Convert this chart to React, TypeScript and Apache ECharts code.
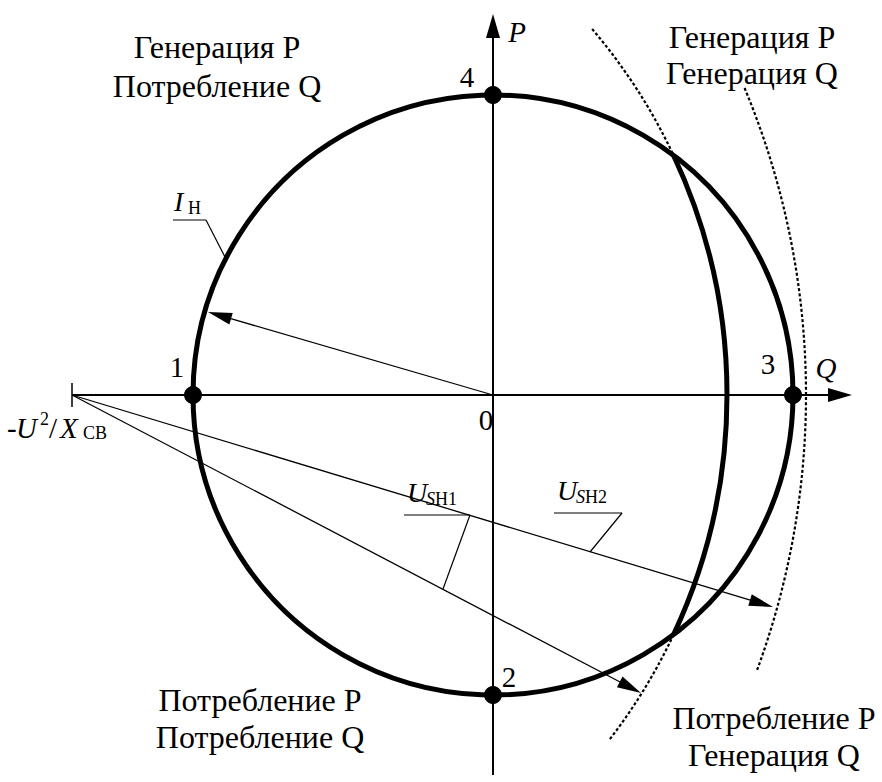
import { useEffect, useRef } from "react";
import * as echarts from "echarts";

const FONT = '"Liberation Serif", "Times New Roman", serif';

// ---- Diagram data (data units; circle of the load current has radius 3) ----
const mainCircle = [0, 0, 3.0]; // cx, cy, r
const loadCircle = [-3.3, 0, 5.64]; // cx, cy, r (thick inside, dashed outside)
const loadCircleEnds = [3.66, -3.45]; // y of dashed ends
const outerCircle = [-4.85, 0, 7.98];
const outerCircleEnds = [3.07, -2.77];
const feedPoint = [-4.21, 0];
const qAxisRange = [-4.21, 3.59];
const pAxisRange = [-3.8, 3.81];
const keyPoints = [
  [-3, 0],
  [0, -3],
  [3, 0],
  [0, 3],
];
const keyPointLabels = ["1", "2", "3", "4"];
const keyLabelAnchors = [
  [-3.16, 0.28],
  [0.16, -2.82],
  [2.75, 0.31],
  [-0.26, 3.18],
];
const originLabel = "0";
const originLabelAnchor = [-0.07, -0.25];
const axisNames = ["Q", "P"];
const axisNameAnchors = [
  [3.33, 0.27],
  [0.24, 3.63],
];
const vectorStarts = [
  [0, 0],
  [-4.21, 0],
  [-4.21, 0],
];
const vectorEnds = [
  [-2.85, 0.83],
  [1.48, -2.98],
  [2.8, -2.12],
];
const vectorMain = ["I", "U", "U"];
const vectorSubItalic = ["", "S", "S"];
const vectorSub = ["Н", "Н1", "Н2"];
const vectorLabelAnchors = [
  [-3.19, 1.94],
  [-0.86, -0.97],
  [0.64, -0.95],
];
const underlines = [
  [-3.2, -2.87, 1.75],
  [-0.89, -0.23, -1.2],
  [0.61, 1.29, -1.18],
]; // x1, x2, y
const leaderStarts = [
  [-2.87, 1.75],
  [-0.23, -1.2],
  [1.29, -1.18],
];
const leaderEnds = [
  [-2.68, 1.38],
  [-0.5, -1.94],
  [0.97, -1.57],
];
const regionTexts = [
  ["Генерация P", "Потребление Q"],
  ["Генерация P", "Генерация Q"],
  ["Потребление P", "Потребление Q"],
  ["Потребление P", "Генерация Q"],
];
const regionAnchors = [
  [-2.76, 3.48, 3.09],
  [2.59, 3.58, 3.22],
  [-2.33, -3.05, -3.42],
  [2.81, -3.23, -3.6],
]; // x, y line1, y line2

const X_MIN = -4.93;
const X_MAX = 3.89;
const Y_MIN = -3.87;
const Y_MAX = 3.95;

const MAIN_SIZE = 29;
const REGION_SIZE = 32;
const SUB_SIZE = 18;

function txt(x: number, y: number, text: string, size: number, italic: boolean, align = "center") {
  return {
    type: "text",
    x,
    y,
    style: {
      text,
      fontSize: size,
      fontFamily: FONT,
      fontStyle: italic ? "italic" : "normal",
      fill: "#000",
      align,
      verticalAlign: "middle",
    },
  };
}

function arrow(s: number[], t: number[], lineWidth: number, headLen: number, headHalf: number) {
  const dx = t[0] - s[0];
  const dy = t[1] - s[1];
  const L = Math.hypot(dx, dy);
  const ux = dx / L;
  const uy = dy / L;
  const nx = -uy;
  const ny = ux;
  const bx = t[0] - ux * headLen;
  const by = t[1] - uy * headLen;
  return [
    {
      type: "line",
      shape: { x1: s[0], y1: s[1], x2: bx + ux * 2, y2: by + uy * 2 },
      style: { stroke: "#000", lineWidth },
    },
    {
      type: "polygon",
      shape: {
        points: [
          [t[0], t[1]],
          [bx + nx * headHalf, by + ny * headHalf],
          [bx - nx * headHalf, by - ny * headHalf],
        ],
      },
      style: { fill: "#000" },
    },
  ];
}

function buildDiagram(api: any) {
  const c = (p: number[]) => api.coord(p);
  const sz = (r: number) => api.size([r, 0])[0];
  const children: any[] = [];

  // Axes
  const q0 = c([qAxisRange[0], 0]);
  const q1 = c([qAxisRange[1], 0]);
  children.push(...arrow(q0, q1, 2, 24, 7));
  const p0 = c([0, pAxisRange[0]]);
  const p1 = c([0, pAxisRange[1]]);
  children.push(...arrow(p0, p1, 2, 24, 7));

  // Tick at feed point
  const f = c(feedPoint);
  children.push({
    type: "line",
    shape: { x1: f[0], y1: f[1] - 12, x2: f[0], y2: f[1] + 12 },
    style: { stroke: "#000", lineWidth: 1.5 },
  });

  // Main circle
  const mc = c([mainCircle[0], mainCircle[1]]);
  children.push({
    type: "circle",
    shape: { cx: mc[0], cy: mc[1], r: sz(mainCircle[2]) },
    style: { fill: "none", stroke: "#000", lineWidth: 5 },
  });

  // Load circle: intersection with main circle
  const a = loadCircle[0] - mainCircle[0];
  const m = mainCircle[2];
  const R = loadCircle[2];
  const ix = (a * a + m * m - R * R) / (2 * a);
  const iy = Math.sqrt(m * m - ix * ix);
  const phi = Math.atan2(iy, ix - a);
  const phiTop = Math.asin((loadCircleEnds[0] - loadCircle[1]) / R);
  const phiBot = Math.asin((loadCircleEnds[1] - loadCircle[1]) / R);
  const lc = c([loadCircle[0], loadCircle[1]]);
  const lr = sz(R);
  children.push({
    type: "arc",
    shape: { cx: lc[0], cy: lc[1], r: lr, startAngle: -phi, endAngle: phi, clockwise: true },
    style: { fill: "none", stroke: "#000", lineWidth: 5 },
  });
  const dashStyle = { fill: "none", stroke: "#000", lineWidth: 2.2, lineDash: [3, 2.2] };
  children.push({
    type: "arc",
    shape: { cx: lc[0], cy: lc[1], r: lr, startAngle: -phiTop, endAngle: -phi, clockwise: true },
    style: dashStyle,
  });
  children.push({
    type: "arc",
    shape: { cx: lc[0], cy: lc[1], r: lr, startAngle: phi, endAngle: -phiBot, clockwise: true },
    style: dashStyle,
  });

  // Outer dashed circle
  const oc = c([outerCircle[0], outerCircle[1]]);
  const oR = outerCircle[2];
  children.push({
    type: "arc",
    shape: {
      cx: oc[0],
      cy: oc[1],
      r: sz(oR),
      startAngle: -Math.asin(outerCircleEnds[0] / oR),
      endAngle: -Math.asin(outerCircleEnds[1] / oR),
      clockwise: true,
    },
    style: dashStyle,
  });

  // Vectors
  vectorStarts.forEach((s, i) => {
    children.push(...arrow(c(s), c(vectorEnds[i]), 1.3, 24, 6));
  });

  // Leaders and vector labels
  underlines.forEach((u, i) => {
    const l0 = c([u[0], u[2]]);
    const l1 = c([u[1], u[2]]);
    children.push({
      type: "line",
      shape: { x1: l0[0], y1: l0[1], x2: l1[0], y2: l1[1] },
      style: { stroke: "#000", lineWidth: 1.2 },
    });
    const s = c(leaderStarts[i]);
    const e = c(leaderEnds[i]);
    children.push({
      type: "line",
      shape: { x1: s[0], y1: s[1], x2: e[0], y2: e[1] },
      style: { stroke: "#000", lineWidth: 1.2 },
    });
    const an = c(vectorLabelAnchors[i]);
    children.push(txt(an[0], an[1], vectorMain[i], 28, true, "left"));
    let dx = vectorMain[i] === "I" ? 14 : 19;
    if (vectorSubItalic[i]) {
      children.push(txt(an[0] + dx, an[1] + 7, vectorSubItalic[i], SUB_SIZE, true, "left"));
      dx += 9;
    }
    children.push(txt(an[0] + dx, an[1] + 7, vectorSub[i], SUB_SIZE, false, "left"));
  });

  // Feed point label: -U^2/X_СВ
  const fl = c([feedPoint[0] - 0.65, feedPoint[1] - 0.325]);
  children.push(txt(fl[0], fl[1], "-", MAIN_SIZE, false, "left"));
  children.push(txt(fl[0] + 9, fl[1], "U", MAIN_SIZE, true, "left"));
  children.push(txt(fl[0] + 33, fl[1] - 9, "2", SUB_SIZE, false, "left"));
  children.push(txt(fl[0] + 42, fl[1], "/", MAIN_SIZE, false, "left"));
  children.push(txt(fl[0] + 53, fl[1], "X", MAIN_SIZE, true, "left"));
  children.push(txt(fl[0] + 76, fl[1] + 5, "СВ", SUB_SIZE, false, "left"));

  // Key point labels
  keyPointLabels.forEach((t, i) => {
    const p = c(keyLabelAnchors[i]);
    children.push(txt(p[0], p[1], t, MAIN_SIZE, false));
  });
  const o = c(originLabelAnchor);
  children.push(txt(o[0], o[1], originLabel, MAIN_SIZE, false));
  axisNames.forEach((t, i) => {
    const p = c(axisNameAnchors[i]);
    children.push(txt(p[0], p[1], t, MAIN_SIZE, true));
  });

  // Region texts
  regionTexts.forEach((lines, i) => {
    const r = regionAnchors[i];
    const p1 = c([r[0], r[1]]);
    const p2 = c([r[0], r[2]]);
    children.push(txt(p1[0], p1[1], lines[0], REGION_SIZE, false));
    children.push(txt(p2[0], p2[1], lines[1], REGION_SIZE, false));
  });

  return children;
}

export default function App() {
  const ref = useRef<HTMLDivElement>(null);
  useEffect(() => {
    if (!ref.current) return;
    const chart = echarts.init(ref.current, undefined, { renderer: "svg" });
    chart.setOption({
      animation: false,
      backgroundColor: "#fff",
      grid: { left: 0, right: 0, top: 0, bottom: 0, containLabel: false },
      xAxis: { type: "value", min: X_MIN, max: X_MAX, show: false },
      yAxis: { type: "value", min: Y_MIN, max: Y_MAX, show: false },
      series: [
        {
          type: "custom",
          coordinateSystem: "cartesian2d",
          silent: true,
          data: [[0, 0]],
          renderItem: (_params: any, api: any) => ({ type: "group", children: buildDiagram(api) }),
          z: 1,
        },
        {
          type: "scatter",
          data: keyPoints,
          symbol: "circle",
          symbolSize: 18,
          itemStyle: { color: "#000", opacity: 1 },
          silent: true,
          z: 5,
        },
      ],
    });
    return () => chart.dispose();
  }, []);
  return (
    <div
      ref={ref}
      style={{ position: "fixed", left: 0, top: 0, width: 882, height: 782, background: "#fff" }}
    />
  );
}
